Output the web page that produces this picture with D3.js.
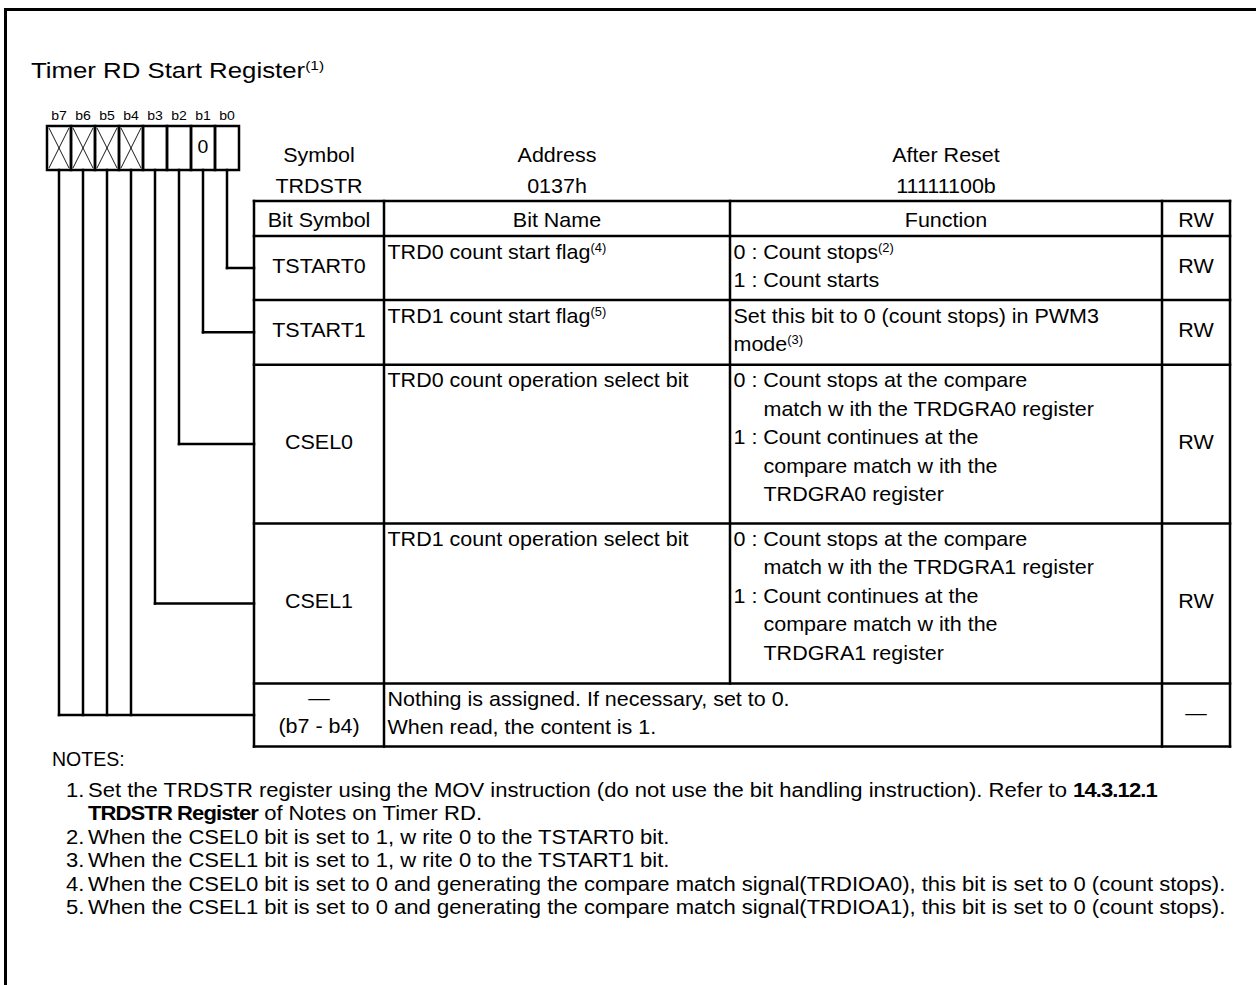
<!DOCTYPE html>
<html><head><meta charset="utf-8">
<script src="https://cdn.jsdelivr.net/npm/d3@7"></script>
<style>html,body{margin:0;padding:0;background:#fff;} svg{display:block;}</style>
</head><body>
<svg id="c" width="1256" height="985"></svg>
<script>
// ---------------- DATA ----------------
const titleText = "Timer RD Start Register^(1)";
const bitLabels = ["b7","b6","b5","b4","b3","b2","b1","b0"];
const bitValues = ["x","x","x","x","","","0",""];          // "x" = reserved (crossed)
const headerLabels = ["Symbol","Address","After Reset"];
const headerValues = ["TRDSTR","0137h","11111100b"];
const columnTitles = ["Bit Symbol","Bit Name","Function","RW"];
const bitSymbols = [["TSTART0"],["TSTART1"],["CSEL0"],["CSEL1"],["—","(b7 - b4)"]];
const bitNames = [
  ["TRD0 count start flag^(4)"],
  ["TRD1 count start flag^(5)"],
  ["TRD0 count operation select bit"],
  ["TRD1 count operation select bit"],
  ["Nothing is assigned. If necessary, set to 0.","When read, the content is 1."]
];
const functionLines = [
  ["0 : Count stops^(2)","1 : Count starts"],
  ["Set this bit to 0 (count stops) in PWM3","mode^(3)"],
  ["0 : Count stops at the compare","\tmatch w ith the TRDGRA0 register","1 : Count continues at the","\tcompare match w ith the","\tTRDGRA0 register"],
  ["0 : Count stops at the compare","\tmatch w ith the TRDGRA1 register","1 : Count continues at the","\tcompare match w ith the","\tTRDGRA1 register"],
  null
];
const rwValues = ["RW","RW","RW","RW","—"];
const rowBits = [["b0"],["b1"],["b2"],["b3"],["b7","b6","b5","b4"]];
const notesTitle = "NOTES:";
const noteNumbers = ["1.","","2.","3.","4.","5."];
const noteLines = [
  "Set the TRDSTR register using the MOV instruction (do not use the bit handling instruction). Refer to **14.3.12.1**",
  "**TRDSTR Register** of Notes on Timer RD.",
  "When the CSEL0 bit is set to 1, w rite 0 to the TSTART0 bit.",
  "When the CSEL1 bit is set to 1, w rite 0 to the TSTART1 bit.",
  "When the CSEL0 bit is set to 0 and generating the compare match signal(TRDIOA0), this bit is set to 0 (count stops).",
  "When the CSEL1 bit is set to 0 and generating the compare match signal(TRDIOA1), this bit is set to 0 (count stops)."
];

// ---------------- LAYOUT ----------------
const FONT = "'Liberation Sans', Arial, Helvetica, sans-serif";
const FS = 20, SX = 1.075, LW = 2.5;
const colX = [254, 384, 730, 1162, 1230];
const headerTop = 201, headerBottom = 236;
const rowHeights = [64, 64.7, 158.7, 160, 63];
const lineGap = 28.5;
const firstBase = 22.5;
const indent = 30;

const svg = d3.select("#c");
svg.append("rect").attr("width",1256).attr("height",985).attr("fill","#fff");

function parse(str){
  const parts = str.split(/(\^\([^)]*\)|\*\*[^*]+\*\*)/).filter(s=>s.length);
  return parts.map(p=>{
    if (p.startsWith("^")) return {t:p.slice(1), sup:true};
    if (p.startsWith("**")) return {t:p.slice(2,-2), bold:true};
    return {t:p};
  });
}
function addText(g, x, y, str, o={}){
  const fs = o.size || FS, sx = o.sx || SX;
  const t = g.append("text")
    .attr("transform", `translate(${x},${y}) scale(${sx},1)`)
    .attr("font-family", FONT).attr("font-size", fs).attr("fill", "#000")
    .attr("text-anchor", o.anchor || "start")
    .style("white-space","pre");
  let raised = false;
  parse(str).forEach(p=>{
    const ts = t.append("tspan").text(p.t);
    if (p.bold) ts.attr("font-weight","bold").attr("letter-spacing", o.boldSpacing || 0);
    if (p.sup){ ts.attr("font-size", fs*0.6).attr("dy", -fs*0.33); raised = true; }
    else if (raised){ ts.attr("dy", fs*0.33); raised = false; }
  });
  return t;
}

// Frame
svg.append("line").attr("x1",4).attr("x2",1256).attr("y1",9.5).attr("y2",9.5).attr("stroke","#000").attr("stroke-width",3);
svg.append("line").attr("x1",5.5).attr("x2",5.5).attr("y1",8).attr("y2",985).attr("stroke","#000").attr("stroke-width",3);

// Title
addText(svg, 31, 77.5, titleText, {size:21.5, sx:1.2});

// Register bit boxes
const xBit = d3.scaleBand().domain(bitLabels).range([47, 239]).padding(0);
const boxTop = 126, boxBottom = 170;
const gBits = svg.append("g");
bitLabels.forEach((b,i)=>{
  const x0 = xBit(b), w = xBit.bandwidth();
  addText(gBits, x0 + w/2, 120, b, {anchor:"middle", size:12.2, sx:1.15});
  gBits.append("rect").attr("x",x0).attr("y",boxTop).attr("width",w).attr("height",boxBottom-boxTop)
    .attr("fill","none").attr("stroke","#000").attr("stroke-width",LW);
  if (bitValues[i] === "x"){
    gBits.append("line").attr("x1",x0+2).attr("y1",boxTop+2).attr("x2",x0+w-2).attr("y2",boxBottom-2).attr("stroke","#000").attr("stroke-width",0.9);
    gBits.append("line").attr("x1",x0+w-2).attr("y1",boxTop+2).attr("x2",x0+2).attr("y2",boxBottom-2).attr("stroke","#000").attr("stroke-width",0.9);
  } else if (bitValues[i]){
    addText(gBits, x0 + w/2, 153, bitValues[i], {anchor:"middle", size:18.5, sx:1.05});
  }
});

// Header (Symbol / Address / After Reset)
const headCenters = [(colX[0]+colX[1])/2, (colX[1]+colX[2])/2, (colX[2]+colX[3])/2];
headerLabels.forEach((h,i)=>{
  addText(svg, headCenters[i], 161.5, h, {anchor:"middle"});
  addText(svg, headCenters[i], 193, headerValues[i], {anchor:"middle"});
});

// Table
const rowTops = [headerBottom];
rowHeights.forEach((h,i)=> rowTops.push(rowTops[i]+h));
const yRow = d3.scaleOrdinal().domain(d3.range(rowHeights.length)).range(rowTops.slice(0,-1));
const gT = svg.append("g");
const line = (x1,y1,x2,y2)=> gT.append("line").attr("x1",x1).attr("y1",y1).attr("x2",x2).attr("y2",y2)
   .attr("stroke","#000").attr("stroke-width",LW).attr("stroke-linecap","square");

columnTitles.forEach((c,i)=> addText(gT, (colX[i]+colX[i+1])/2, 226.5, c, {anchor:"middle"}));

line(colX[0], headerTop, colX[4], headerTop);
rowTops.forEach(y=> line(colX[0], y, colX[4], y));
const tableBottom = rowTops[rowTops.length-1];
line(colX[0], headerTop, colX[0], tableBottom);
line(colX[4], headerTop, colX[4], tableBottom);
line(colX[1], headerTop, colX[1], tableBottom);
line(colX[3], headerTop, colX[3], tableBottom);
line(colX[2], headerTop, colX[2], rowTops[rowTops.length-2]);

bitSymbols.forEach((syms,r)=>{
  const top = yRow(r), h = rowHeights[r], mid = top + h/2;
  if (syms.length === 1) addText(gT, (colX[0]+colX[1])/2, mid+5, syms[0], {anchor:"middle"});
  else syms.forEach((s,k)=> addText(gT, (colX[0]+colX[1])/2, top+firstBase-1+k*lineGap, s, {anchor:"middle"}));
  bitNames[r].forEach((s,k)=> addText(gT, colX[1]+3.5, top+firstBase+k*lineGap, s));
  if (functionLines[r]) functionLines[r].forEach((s,k)=>{
    const cont = s.startsWith("\t");
    addText(gT, colX[2]+3.5+(cont?indent:0), top+firstBase+k*lineGap, cont? s.slice(1): s);
  });
  addText(gT, (colX[3]+colX[4])/2, mid+5, rwValues[r], {anchor:"middle"});
  const xs = rowBits[r].map(b=> xBit(b)+xBit.bandwidth()/2);
  xs.forEach(x=> line(x, boxBottom, x, mid));
  line(d3.min(xs), mid, colX[0], mid);
});

// Notes
addText(svg, 52, 766, notesTitle, {size:19.5, sx:1.0});
const noteBase = [796.5, 820, 843.5, 867, 890.5, 914];
noteLines.forEach((s,i)=>{
  if (noteNumbers[i]) addText(svg, 66, noteBase[i], noteNumbers[i], {size:19.5, sx:1.13});
  addText(svg, 88, noteBase[i], s, {size:19.5, sx:1.13, boldSpacing:-0.8});
});
</script>
</body></html>
